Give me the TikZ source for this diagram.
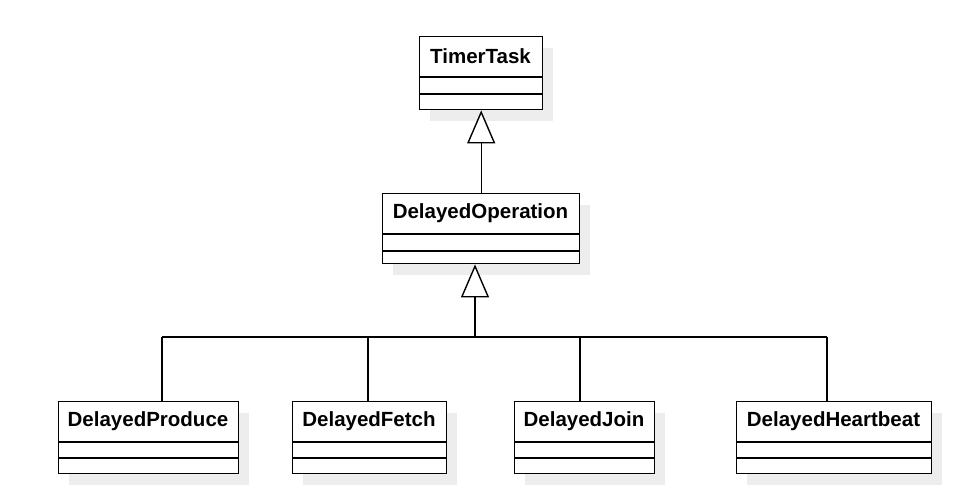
\documentclass[tikz,border=0pt]{standalone}
\usepackage{fontspec}
\setmainfont{Liberation Sans}
\usetikzlibrary{arrows.meta,calc}
\definecolor{shadowc}{HTML}{EDEDED}
\tikzset{
  classbox/.style={draw=black, line width=1.4pt, fill=white, inner sep=0pt},
  cline/.style={line width=1.4pt},
  conn/.style={draw=black, line width=1.4pt},
  gentip/.style={-{Triangle[open, length=33pt, width=28pt, line width=1.4pt, fill=white]}},
  cname/.style={font=\fontsize{20.5}{24}\selectfont\bfseries, inner sep=0pt}
}
% name, left, top, right, line1, line2, bottom, text
\newcommand\umlclassbox[8]{%
  \fill[shadowc] (#2+11,#3+12) rectangle (#4+11,#7+12);
  \node[classbox, anchor=north west, minimum width={(#4-#2)*1pt}, minimum height={(#7-#3)*1pt}] (#1) at (#2,#3) {};
  \draw[cline] (#2,#5) -- (#4,#5);
  \draw[cline] (#2,#6) -- (#4,#6);
  \node[cname] (#1-name) at ({(#2+#4)/2},{(#3+#5)/2}) {#8};
}
\begin{document}
\begin{tikzpicture}[x=1pt,y=-1pt]
\useasboundingbox (0,0) rectangle (963,499);
\fill[white] (0,0) rectangle (963,499);

\umlclassbox{TT}{419}{36}{542}{77}{94}{109}{TimerTask}
\umlclassbox{DO}{382}{193}{579}{234}{251}{263}{DelayedOperation}
\umlclassbox{DP}{58}{401}{238}{442}{458}{473}{DelayedProduce}
\umlclassbox{DF}{292}{401}{446}{442}{458}{473}{DelayedFetch}
\umlclassbox{DJ}{514}{401}{654}{442}{458}{473}{DelayedJoin}
\umlclassbox{DH}{736}{401}{931}{442}{458}{473}{DelayedHeartbeat}

% TimerTask <- DelayedOperation
\draw[conn, gentip] (DO.north) -- (TT.south);

% bus
\coordinate (J) at (475,337);
\coordinate (sDP) at (162,337);
\coordinate (sDF) at (368,337);
\coordinate (sDJ) at (580,337);
\coordinate (sDH) at (827,337);
\draw[conn] (sDP) -- (sDH);
\draw[conn] (DP.north -| sDP) -- (sDP);
\draw[conn] (DF.north -| sDF) -- (sDF);
\draw[conn] (DJ.north -| sDJ) -- (sDJ);
\draw[conn] (DH.north -| sDH) -- (sDH);
\draw[conn, line width=2pt, gentip] (J) -- (DO.south -| J);
\end{tikzpicture}
\end{document}
